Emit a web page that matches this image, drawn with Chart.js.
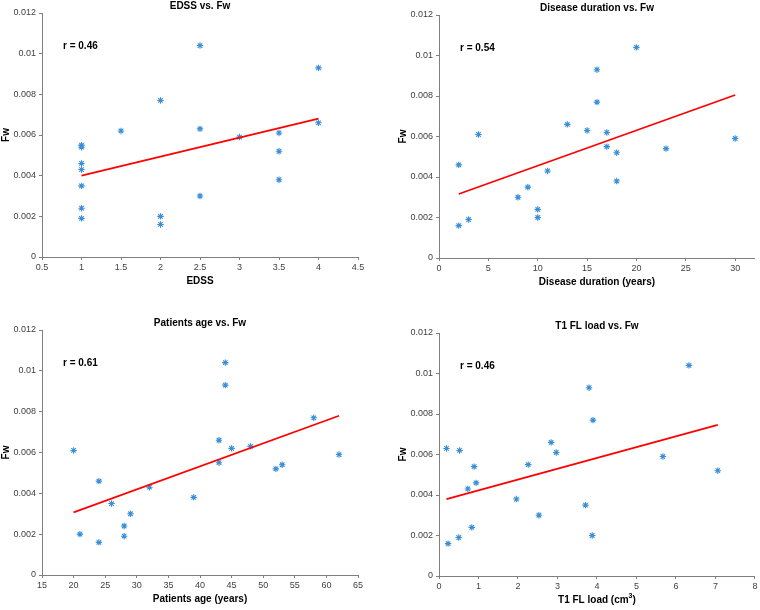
<!DOCTYPE html>
<html>
<head>
<meta charset="utf-8">
<script src="https://cdn.jsdelivr.net/npm/chart.js@4.4.1/dist/chart.umd.min.js"></script>
<style>
  html, body { margin: 0; padding: 0; background: #ffffff; }
  #wrap { position: relative; width: 760px; height: 610px; }
  .cv { position: absolute; }
</style>
</head>
<body>
<div id="wrap">
  <div class="cv" style="left:0;top:0;width:380px;height:300px;"><canvas id="c1"></canvas></div>
  <div class="cv" style="left:380px;top:0;width:380px;height:300px;"><canvas id="c2"></canvas></div>
  <div class="cv" style="left:0;top:300px;width:380px;height:310px;"><canvas id="c3"></canvas></div>
  <div class="cv" style="left:380px;top:300px;width:380px;height:310px;"><canvas id="c4"></canvas></div>
</div>
<script>
// ---- Data ----
const fwEdss = [0.0055, 0.0054, 0.0046, 0.0043, 0.0035, 0.0024, 0.0019, 0.0062, 0.0077, 0.0020, 0.0016, 0.0104, 0.0063, 0.0030, 0.0059, 0.0061, 0.0052, 0.0038, 0.0093, 0.0066];
const edss   = [1, 1, 1, 1, 1, 1, 1, 1.5, 2, 2, 2, 2.5, 2.5, 2.5, 3, 3.5, 3.5, 3.5, 4, 4];

const duration   = [2, 2, 3, 4, 8, 9, 10, 10, 11, 13, 15, 16, 16, 17, 17, 18, 18, 20, 23, 30];
const fwDuration = [0.0046, 0.0016, 0.0019, 0.0061, 0.0030, 0.0035, 0.0024, 0.0020, 0.0043, 0.0066, 0.0063, 0.0093, 0.0077, 0.0062, 0.0055, 0.0052, 0.0038, 0.0104, 0.0054, 0.0059];

const age   = [20, 21, 24, 24, 26, 28, 28, 29, 32, 39, 43, 43, 44, 44, 45, 48, 52, 53, 58, 62];
const fwAge = [0.0061, 0.0020, 0.0046, 0.0016, 0.0035, 0.0024, 0.0019, 0.0030, 0.0043, 0.0038, 0.0066, 0.0055, 0.0104, 0.0093, 0.0062, 0.0063, 0.0052, 0.0054, 0.0077, 0.0059];

const t1Load = [0.19, 0.23, 0.50, 0.52, 0.73, 0.83, 0.89, 0.94, 1.96, 2.26, 2.53, 2.84, 2.97, 3.71, 3.80, 3.88, 3.90, 5.67, 6.33, 7.06];
const fwT1   = [0.0063, 0.0016, 0.0019, 0.0062, 0.0043, 0.0024, 0.0054, 0.0046, 0.0038, 0.0055, 0.0030, 0.0066, 0.0061, 0.0035, 0.0093, 0.0020, 0.0077, 0.0059, 0.0104, 0.0052];

// Fitted line end points
const fitEdssX = [1, 4],        fitEdssY = [0.0040, 0.0068];
const fitDurX  = [2, 30],       fitDurY  = [0.00316, 0.00805];
const fitAgeX  = [20, 62],      fitAgeY  = [0.00307, 0.0078];
const fitT1X   = [0.19, 7.06],  fitT1Y   = [0.0038, 0.00746];

// Tick settings
const yTicksFw = [0, 0.002, 0.004, 0.006, 0.008, 0.01, 0.012];
const rLabels = ["r = 0.46", "r = 0.54", "r = 0.61", "r = 0.46"];
const titles = ["EDSS vs. Fw", "Disease duration vs. Fw", "Patients age vs. Fw", "T1 FL load vs. Fw"];
const xTitles = ["EDSS", "Disease duration (years)", "Patients age (years)", "T1 FL load (cm|3|)"];

// ---- Rendering ----
const FONT = "'Liberation Sans', Arial, Helvetica, sans-serif";
const AXIS = '#7f7f7f';
const TICKTXT = '#404040';

function pts(xs, ys) { return xs.map((x, i) => ({ x: x, y: ys[i] })); }

function fmtY(v) {
  if (Math.abs(v) < 1e-12) return '0';
  return String(parseFloat(v.toFixed(3)));
}

const annot = {
  id: 'annot',
  afterDraw(chart, args, o) {
    const ctx = chart.ctx, ca = chart.chartArea;
    ctx.save();
    ctx.fillStyle = '#000';
    ctx.textAlign = 'center';
    ctx.textBaseline = 'middle';
    ctx.font = 'bold 10px ' + FONT;
    ctx.fillText(o.title, (ca.left + ca.right) / 2, ca.top - 6.5);
    // x title (optionally with superscript part)
    const parts = o.xTitle.split('|');
    const xt = ca.bottom + 24;
    if (parts.length === 1) {
      ctx.fillText(o.xTitle, (ca.left + ca.right) / 2, xt);
    } else {
      ctx.font = 'bold 10px ' + FONT;
      const w0 = ctx.measureText(parts[0]).width;
      const w2 = ctx.measureText(parts[2]).width;
      ctx.font = 'bold 7px ' + FONT;
      const w1 = ctx.measureText(parts[1]).width;
      let x = (ca.left + ca.right) / 2 - (w0 + w1 + w2) / 2;
      ctx.textAlign = 'left';
      ctx.font = 'bold 10px ' + FONT;
      ctx.fillText(parts[0], x, xt); x += w0;
      ctx.font = 'bold 7px ' + FONT;
      ctx.fillText(parts[1], x, xt - 4); x += w1;
      ctx.font = 'bold 10px ' + FONT;
      ctx.fillText(parts[2], x, xt);
      ctx.textAlign = 'center';
    }
    // y title
    ctx.save();
    ctx.translate(ca.left - 36, (ca.top + ca.bottom) / 2);
    ctx.rotate(-Math.PI / 2);
    ctx.font = 'bold 10px ' + FONT;
    ctx.fillText('Fw', 0, 0);
    ctx.restore();
    // r label
    ctx.textAlign = 'left';
    ctx.font = 'bold 10px ' + FONT;
    const ys = chart.scales.y;
    ctx.fillText(o.r, ca.left + 21, ys.getPixelForValue(0.01037));
    ctx.restore();
  }
};

function make(id, xs, ys, fx, fy, xmin, xmax, xstep, idx, geo) {
  const xFmt = (v) => String(parseFloat(v.toFixed(2)));
  new Chart(document.getElementById(id), {
    type: 'scatter',
    data: {
      datasets: [
        {
          data: pts(xs, ys),
          pointStyle: 'star',
          pointRadius: 3.2,
          borderColor: '#3a8fd8',
          backgroundColor: '#3a8fd8',
          borderWidth: 1.1,
          order: 2
        },
        {
          type: 'line',
          data: pts(fx, fy),
          borderColor: '#ff0000',
          borderWidth: 1.8,
          pointRadius: 0,
          showLine: true,
          fill: false,
          order: 1
        }
      ]
    },
    options: {
      responsive: true,
      maintainAspectRatio: false,
      animation: false,
      events: [],
      layout: { padding: { left: 0, top: geo.top, right: geo.right, bottom: 0 } },
      plugins: {
        legend: { display: false },
        tooltip: { enabled: false },
        annot: { title: titles[idx], xTitle: xTitles[idx], r: rLabels[idx] }
      },
      scales: {
        x: {
          type: 'linear',
          min: xmin, max: xmax,
          border: { display: true, color: AXIS, width: 1 },
          grid: { drawOnChartArea: false, drawTicks: true, tickLength: 3, color: AXIS },
          ticks: { stepSize: xstep, includeBounds: false, color: TICKTXT, font: { size: 9, family: FONT }, padding: 2, maxRotation: 0, callback: xFmt },
          afterFit: (s) => { s.height = geo.xh; }
        },
        y: {
          type: 'linear',
          min: 0, max: 0.012,
          border: { display: true, color: AXIS, width: 1 },
          grid: { drawOnChartArea: false, drawTicks: true, tickLength: 3, color: AXIS },
          afterBuildTicks: (s) => { s.ticks = yTicksFw.map(v => ({ value: v })); },
          ticks: { color: TICKTXT, font: { size: 9, family: FONT }, padding: 3, callback: fmtY },
          afterFit: (s) => { s.width = geo.yw; }
        }
      }
    },
    plugins: [annot]
  });
}

make('c1', edss, fwEdss, fitEdssX, fitEdssY, 0.5, 4.5, 0.5, 0, { top: 13, right: 22, xh: 43, yw: 42 });
make('c2', duration, fwDuration, fitDurX, fitDurY, 0, 32, 5, 1, { top: 15, right: 5, xh: 42, yw: 59 });
make('c3', age, fwAge, fitAgeX, fitAgeY, 15, 65, 5, 2, { top: 30, right: 22, xh: 35, yw: 42 });
make('c4', t1Load, fwT1, fitT1X, fitT1Y, 0, 8, 1, 3, { top: 33, right: 4, xh: 34, yw: 59 });
</script>
</body>
</html>
